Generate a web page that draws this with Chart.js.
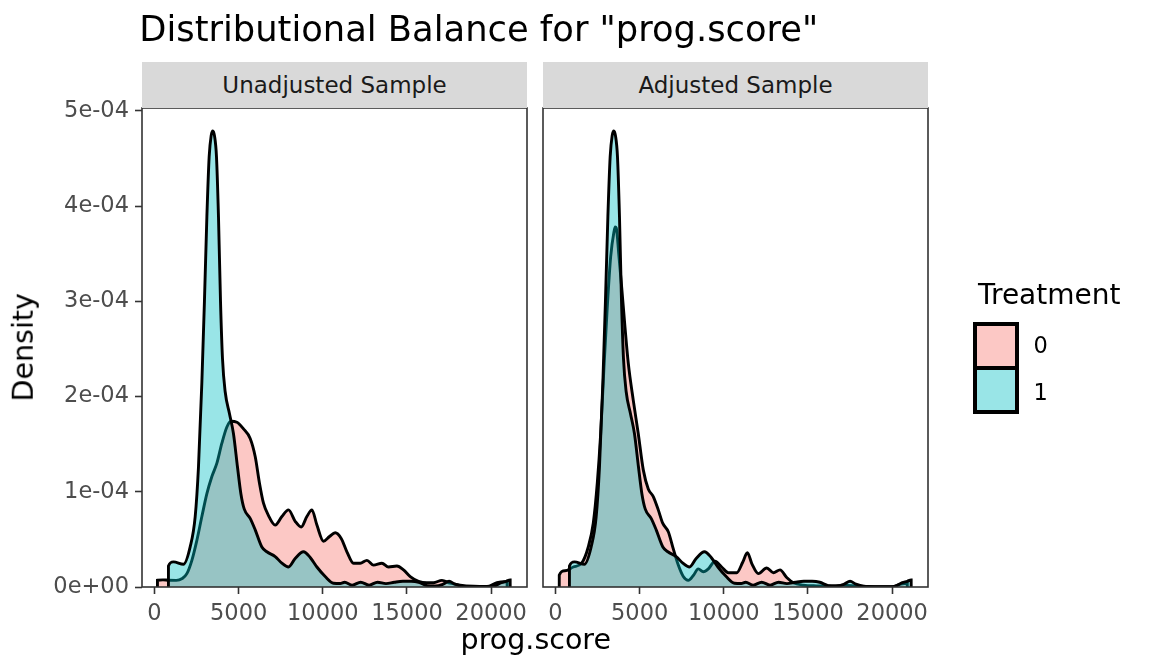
<!DOCTYPE html>
<html>
<head>
<meta charset="utf-8">
<script src="https://cdn.jsdelivr.net/npm/chart.js@4.4.1/dist/chart.umd.min.js"></script>
<style>
  html, body { margin: 0; padding: 0; background: #ffffff; }
  body { width: 1152px; height: 672px; position: relative; overflow: hidden; font-family: "DejaVu Sans", sans-serif; }
  canvas { position: absolute; left: 0; top: 0; }
  .txt { position: absolute; white-space: nowrap; line-height: 1; }
  .strip { position: absolute; background: #d9d9d9; color: #1a1a1a; font-size: 23px; display: flex; align-items: center; justify-content: center; }
  .key { position: absolute; box-sizing: border-box; border: 4px solid #000; }
</style>
</head>
<body>
<canvas id="left" width="1152" height="672"></canvas>
<canvas id="right" width="1152" height="672"></canvas>

<div class="txt" id="title" style="left:139.3px; top:11px; font-size:35.3px; color:#000;"></div>
<div class="strip" id="strip0" style="left:142px; top:62px; width:385px; height:46px;"></div>
<div class="strip" id="strip1" style="left:543px; top:62px; width:385px; height:46px;"></div>
<div class="txt" id="xtitle" style="left:335.8px; width:400px; text-align:center; top:626px; font-size:28.5px; color:#000;"></div>
<div class="txt" id="ytitle" style="left:-125.6px; width:300px; height:28.5px; text-align:center; top:333.25px; font-size:28.5px; line-height:28.5px; color:#000; transform:rotate(-90deg);"></div>
<div class="txt" id="legtitle" style="left:978px; top:281.3px; font-size:28px; color:#000;"></div>
<div class="key" style="left:973px; top:322px; width:46px; height:48px; background:#fcc8c5;"></div>
<div class="key" style="left:973px; top:366px; width:46px; height:48px; background:#99e5e7;"></div>
<div class="txt" id="leg0" style="left:1033.6px; top:334.3px; font-size:22.5px; color:#000;"></div>
<div class="txt" id="leg1" style="left:1033.6px; top:381px; font-size:22.5px; color:#000;"></div>

<script>
// ---------------- DATA ----------------
const chartTitle = 'Distributional Balance for "prog.score"';
const panelNames = ["Unadjusted Sample", "Adjusted Sample"];
const groupNames = ["0", "1"];
const legendTitle = "Treatment";
const xAxisTitle = "prog.score";
const yAxisTitle = "Density";

const xTicks = [0, 5000, 10000, 15000, 20000];
const xTickLabels = ["0", "5000", "10000", "15000", "20000"];
const yTicks = [0, 1e-4, 2e-4, 3e-4, 4e-4, 5e-4];
const yTickLabels = ["0e+00", "1e-04", "2e-04", "3e-04", "4e-04", "5e-04"];

// Treated group (Treatment = 1): same curve in both panels
const treatedX = [830, 831, 1129, 1723, 2121, 2418, 2615, 2814, 2971, 3114, 3250, 3369, 3470, 3565, 3684, 3803, 3922, 4041, 4201, 4457, 4694, 4932, 5134, 5330, 5686, 5984, 6380, 6679, 7172, 7570, 7962, 8360, 8854, 9252, 9650, 10143, 10637, 11034, 11300, 11750, 12250, 12750, 13250, 13750, 14250, 14750, 15250, 15700, 16200, 16700, 17150, 17500, 17850, 18300, 19000, 19800, 20200, 20600, 20900, 21130, 21131];
const treatedY = [0, 2.2e-5, 2.64e-5, 2.39e-5, 4.21e-5, 7.36e-5, 1.26e-4, 2.14e-4, 3.01e-4, 3.89e-4, 4.52e-4, 4.74e-4, 4.79e-4, 4.74e-4, 4.52e-4, 3.89e-4, 3.01e-4, 2.40e-4, 2.05e-4, 1.82e-4, 1.61e-4, 1.26e-4, 9.8e-5, 8.2e-5, 7.2e-5, 6.0e-5, 4.2e-5, 3.7e-5, 3.2e-5, 2.5e-5, 2.1e-5, 3.0e-5, 3.7e-5, 3.1e-5, 2.1e-5, 1.1e-5, 4.0e-6, 3.7e-6, 5.0e-6, 2.0e-6, 5.0e-6, 2.0e-6, 5.0e-6, 3.5e-6, 5.0e-6, 6.0e-6, 6.0e-6, 5.0e-6, 1.5e-6, 1.0e-6, 3.0e-6, 6.0e-6, 3.0e-6, 8e-7, 3e-7, 3e-7, 1.0e-6, 4.5e-6, 6.0e-6, 7.5e-6, 0];

// Control group (Treatment = 0), unadjusted
const controlX = [178, 179, 500, 832, 1300, 1650, 1925, 2222, 2519, 2816, 3114, 3411, 3708, 4005, 4302, 4540, 4896, 5288, 5686, 5984, 6239, 6477, 6774, 7172, 7570, 7962, 8360, 8717, 9055, 9353, 9650, 10042, 10399, 10737, 11094, 11432, 11825, 12223, 12621, 13013, 13512, 13904, 14403, 14796, 15194, 15687, 16186, 16578, 17077, 17570, 18165, 18955, 19750, 20345, 20840, 20950, 20951];
const controlY = [0, 7.1e-6, 7.5e-6, 7.1e-6, 7.0e-6, 9.0e-6, 1.4e-5, 2.8e-5, 4.9e-5, 7.4e-5, 9.8e-5, 1.16e-4, 1.30e-4, 1.51e-4, 1.68e-4, 1.74e-4, 1.73e-4, 1.66e-4, 1.56e-4, 1.37e-4, 1.09e-4, 8.8e-5, 7.5e-5, 6.5e-5, 7.4e-5, 8.1e-5, 6.9e-5, 6.3e-5, 7.4e-5, 8.1e-5, 6.5e-5, 4.8e-5, 5.3e-5, 5.7e-5, 5.1e-5, 3.7e-5, 2.5e-5, 2.5e-5, 2.8e-5, 2.3e-5, 2.5e-5, 2.1e-5, 2.2e-5, 1.8e-5, 1.1e-5, 6.0e-6, 4.5e-6, 4.5e-6, 7.0e-6, 4.0e-6, 2.0e-6, 8e-7, 5e-7, 4.5e-6, 5.5e-6, 5.0e-6, 0];

// Control group (Treatment = 0), adjusted (weighted)
const adjControlX = [226, 227, 565, 1058, 1557, 1949, 2246, 2484, 2686, 2882, 3078, 3280, 3476, 3550, 3613, 3773, 3933, 4130, 4326, 4623, 4920, 5217, 5514, 5811, 6108, 6370, 6703, 7000, 7297, 7594, 7891, 8188, 8485, 8782, 9080, 9477, 9873, 10269, 10766, 11123, 11400, 11677, 12054, 12549, 12945, 13340, 13737, 14133, 14727, 15500, 16500, 17100, 18000, 19000, 20000, 20500, 20900, 20901];
const adjControlY = [0, 1.24e-5, 1.7e-5, 2.1e-5, 2.5e-5, 4.2e-5, 6.7e-5, 1.09e-4, 1.61e-4, 2.31e-4, 2.94e-4, 3.47e-4, 3.73e-4, 3.78e-4, 3.77e-4, 3.47e-4, 3.15e-4, 2.73e-4, 2.35e-4, 1.96e-4, 1.61e-4, 1.23e-4, 1.03e-4, 9.5e-5, 8.1e-5, 6.7e-5, 5.8e-5, 4.0e-5, 2.3e-5, 1.1e-5, 7.0e-6, 1.2e-5, 1.9e-5, 1.6e-5, 1.9e-5, 2.7e-5, 2.1e-5, 1.5e-5, 1.5e-5, 2.6e-5, 3.6e-5, 2.4e-5, 1.4e-5, 2.0e-5, 1.5e-5, 1.8e-5, 1.0e-5, 4.5e-6, 2.0e-6, 1.2e-6, 1.0e-6, 2.0e-6, 8e-7, 4e-7, 4e-7, 3.0e-6, 4.0e-6, 0];

const xMin = -740, xMax = 22130;
const yMin = 0, yMax = 5.03e-4;

// ---------------- STYLE ----------------
const FONT = "DejaVu Sans";
const pinkFill = "rgba(248,118,109,0.4)";
const cyanFill = "rgba(0,191,196,0.4)";

document.getElementById("title").textContent = chartTitle;
document.getElementById("strip0").textContent = panelNames[0];
document.getElementById("strip1").textContent = panelNames[1];
document.getElementById("xtitle").textContent = xAxisTitle;
document.getElementById("ytitle").textContent = yAxisTitle;
document.getElementById("legtitle").textContent = legendTitle;
document.getElementById("leg0").textContent = groupNames[0];
document.getElementById("leg1").textContent = groupNames[1];

function pts(xs, ys) { return xs.map((x, i) => ({ x: x, y: ys[i] })); }

const borderPlugin = {
  id: "panelBorder",
  afterDraw(chart) {
    const a = chart.chartArea, ctx = chart.ctx;
    ctx.save();
    ctx.strokeStyle = "#333333";
    ctx.lineWidth = 1.6;
    ctx.strokeRect(a.left, a.top, a.right - a.left, a.bottom - a.top);
    ctx.restore();
  }
};

function makePanel(id, controlXs, controlYs, showY, padding) {
  const ds = [
    { label: groupNames[1], data: pts(treatedX, treatedY), order: 0,
      backgroundColor: cyanFill, borderColor: "#000000", borderWidth: 2.9, fill: "origin",
      pointRadius: 0, cubicInterpolationMode: "monotone" },
    { label: groupNames[0], data: pts(controlXs, controlYs), order: 1,
      backgroundColor: pinkFill, borderColor: "#000000", borderWidth: 2.9, fill: "origin",
      pointRadius: 0, cubicInterpolationMode: "monotone" }
  ];
  return new Chart(document.getElementById(id), {
    type: "line",
    data: { datasets: ds },
    plugins: [borderPlugin],
    options: {
      responsive: false, animation: false, devicePixelRatio: 1,
      layout: { padding: padding },
      plugins: { legend: { display: false }, tooltip: { enabled: false }, title: { display: false } },
      scales: {
        x: {
          type: "linear", min: xMin, max: xMax,
          afterBuildTicks: s => { s.ticks = xTicks.map(v => ({ value: v })); },
          afterFit: s => { s.height = 50; },
          grid: { drawOnChartArea: false, drawTicks: true, tickLength: 7, tickWidth: 1.6, tickColor: "#333333" },
          border: { display: false },
          ticks: { callback: (v, i) => xTickLabels[i], color: "#4d4d4d", font: { family: FONT, size: 22.5 }, padding: 7, maxRotation: 0, autoSkip: false }
        },
        y: {
          display: showY, min: yMin, max: yMax,
          afterBuildTicks: s => { s.ticks = yTicks.map(v => ({ value: v })); },
          afterFit: s => { s.width = showY ? 120 : 0; },
          grid: { drawOnChartArea: false, drawTicks: true, tickLength: 7, tickWidth: 1.6, tickColor: "#333333" },
          border: { display: false },
          ticks: { callback: (v, i) => yTickLabels[i], color: "#4d4d4d", font: { family: FONT, size: 22.5 }, padding: 6, autoSkip: false }
        }
      }
    }
  });
}

makePanel("left", controlX, controlY, true, { left: 22, right: 625, top: 108, bottom: 35 });
makePanel("right", adjControlX, adjControlY, false, { left: 543, right: 224, top: 108, bottom: 35 });
</script>
</body>
</html>
